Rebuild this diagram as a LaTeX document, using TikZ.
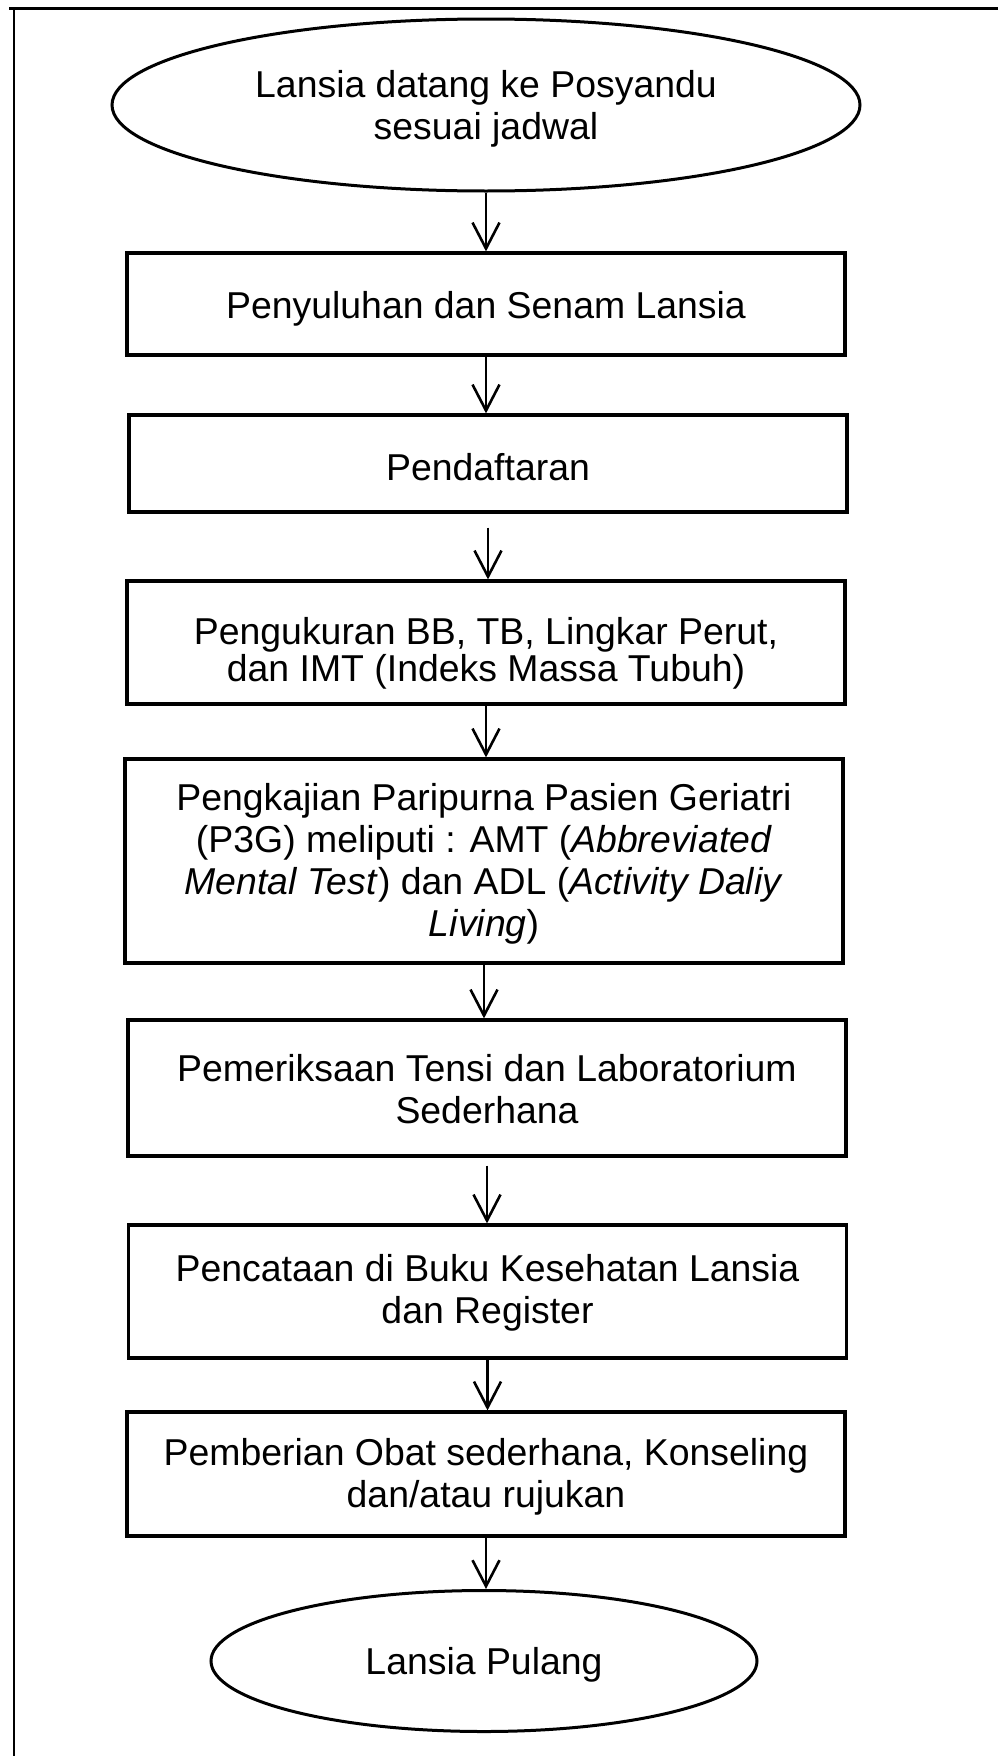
\documentclass[tikz,border=0pt]{standalone}
\usepackage{fontspec}
\setmainfont{Liberation Sans}
\usetikzlibrary{shapes.geometric,arrows.meta}
\newcommand{\lowered}[2]{\raisebox{-#1}[\height][\depth]{#2}}
\begin{document}
\begin{tikzpicture}[x=0.5pt,y=-0.5pt,
  every node/.style={font=\fontsize{18.7pt}{21pt}\selectfont, align=center, inner sep=0pt},
  procbox/.style={draw, rectangle, line width=1.6pt, minimum width=359pt},
  term/.style={draw, ellipse, line width=1.5pt},
  flow/.style={line width=1.3pt, -{Straight Barb[length=13pt,width=13.5pt,line width=1.3pt]}},
  frame/.style={line width=1.1pt}]
\useasboundingbox (0,0) rectangle (998,1756);
% frame
\coordinate (ftl) at (9,8.5);
\coordinate (ftr) at (998,8.5);
\coordinate (fltop) at (14,8.5);
\coordinate (fbl) at (14,1756);
\draw[frame] (ftl) -- (ftr);
\draw[frame] (fltop) -- (fbl);
% nodes
\node[term, minimum width=374pt, minimum height=86pt] (e1) at (486,105)
  {\lowered{2pt}{Lansia datang ke Posyandu}\\\lowered{2pt}{sesuai jadwal}};
\node[procbox, minimum height=51pt] (b1) at (486,304)
  {\lowered{2.5pt}{Penyuluhan dan Senam Lansia}};
\node[procbox, minimum height=48.5pt] (b2) at (488,463.5)
  {\lowered{2pt}{Pendaftaran}};
\node[procbox, minimum height=61.5pt, font=\fontsize{18.7pt}{18.5pt}\selectfont] (b3) at (486,642.5)
  {\lowered{5.5pt}{Pengukuran BB, TB, Lingkar Perut,}\\\lowered{5.5pt}{dan IMT (Indeks Massa Tubuh)}};
\node[procbox, minimum height=102pt] (b4) at (484,861)
  {\lowered{1.5pt}{Pengkajian Paripurna Pasien Geriatri}\\\lowered{1.5pt}{(P3G) meliputi : AMT (\textit{Abbreviated}}\\\lowered{1.5pt}{\textit{Mental Test}) dan ADL (\textit{Activity Daliy}}\\\lowered{1.5pt}{\textit{Living})}};
\node[procbox, minimum height=68pt] (b5) at (487,1088)
  {\lowered{0.5pt}{Pemeriksaan Tensi dan Laboratorium}\\\lowered{0.5pt}{Sederhana}};
\node[procbox, minimum height=66.5pt] (b6) at (487.5,1291.5)
  {\lowered{0.5pt}{Pencataan di Buku Kesehatan Lansia}\\\lowered{0.5pt}{dan Register}};
\node[procbox, minimum height=62pt] (b7) at (486,1474)
  {\lowered{1.5pt}{Pemberian Obat sederhana, Konseling}\\\lowered{1.5pt}{dan/atau rujukan}};
\node[term, minimum width=273pt, minimum height=70.5pt] (e2) at (484,1661)
  {\lowered{2pt}{Lansia Pulang}};
% connectors
\draw[flow] (e1.south) -- (e1.south |- b1.north);
\draw[flow] (b1.south) -- (b1.south |- b2.north);
\draw[flow, shorten <=7pt] (b2.south) -- (b2.south |- b3.north);
\draw[flow] (b3.south) -- (b3.south |- b4.north);
\draw[flow] (b4.south) -- (b4.south |- b5.north);
\draw[flow, shorten <=4pt] (b5.south) -- (b5.south |- b6.north);
\draw[flow] (b6.south) -- (b6.south |- b7.north);
\draw[flow] (b7.south) -- (b7.south |- e2.north);
\end{tikzpicture}
\end{document}
